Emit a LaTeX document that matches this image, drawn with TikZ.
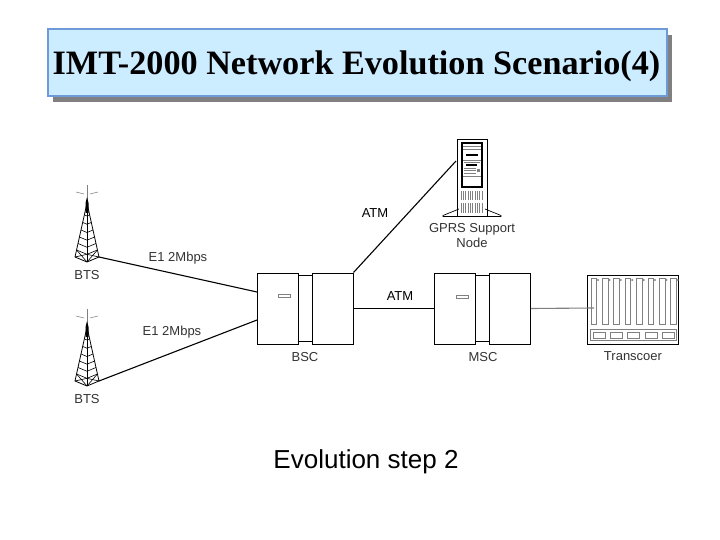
\documentclass[tikz,border=0pt]{standalone}
\usepackage{fontspec}
\setmainfont{Liberation Serif}
\newfontfamily\labelfont{Liberation Sans}
\usetikzlibrary{calc}
\definecolor{titlefill}{RGB}{204,236,255}
\definecolor{titleline}{RGB}{110,155,215}
\definecolor{labelgray}{RGB}{50,50,50}
\tikzset{
  cabinet/.style={draw, line width=1pt, fill=white, minimum width=41pt, minimum height=71pt, inner sep=0pt},
  joiner/.style={draw, line width=1pt, fill=white, minimum width=14pt, minimum height=66pt, inner sep=0pt},
  slot/.style={draw=gray, line width=0.7pt, fill=white, minimum width=12pt, minimum height=3pt, inner sep=0pt},
  tag/.style={font=\labelfont\fontsize{13}{15}\selectfont, text=labelgray, inner sep=0pt, align=center},
  linklabel/.style={font=\labelfont\fontsize{13}{15}\selectfont, text=black, inner sep=0pt},
  link/.style={line width=1.1pt}
}
\begin{document}
\begin{tikzpicture}[x=1pt, y=-1pt]
  \useasboundingbox (0,0) rectangle (720,540);

  % title
  \fill[gray] (53,35) rectangle (672,102);
  \node[draw=titleline, line width=1.6pt, fill=titlefill, minimum width=619pt, minimum height=67pt, inner sep=0pt] (titlebox) at (357.5,62.5) {};
  \node[inner sep=0pt, font=\bfseries\fontsize{34.2}{38}\selectfont] (title) at (356.5,66) {IMT-2000 Network Evolution Scenario(4)};

  % towers
  \foreach \name/\dy in {a/0,b/124} {
    \begin{scope}[yshift=-\dy pt]
      \coordinate (apex\name) at (87,203);
      \coordinate (left\name) at (75,257);
      \coordinate (front\name) at (87,262);
      \coordinate (foot\name) at (99,257);
      \draw[gray, line width=0.5pt] (87,185) -- (87,203);
      \draw[gray, line width=0.6pt] (76,192) -- (84,194) (98,192) -- (90,194);
      \fill (85.5,203) -- (87,197) -- (88.5,203) -- (88.5,213) -- (85.5,213) -- cycle;
      \draw[line width=0.8pt] (apex\name) -- (left\name) -- (front\name) -- (foot\name) -- cycle;
      \draw[line width=0.8pt] (apex\name) -- (front\name);
      \foreach \t in {0.22,0.36,0.5,0.63,0.75,0.87} {
        \draw[line width=0.6pt] ($(apex\name)!\t!(left\name)$) -- ($(apex\name)!\t!(front\name)$) -- ($(apex\name)!\t!(foot\name)$);
      }
      \draw[line width=0.6pt] ($(apex\name)!0.87!(left\name)$) -- (front\name) ($(apex\name)!0.87!(foot\name)$) -- (front\name);
      \draw[line width=0.6pt] ($(apex\name)!0.87!(front\name)$) -- (left\name) ($(apex\name)!0.87!(front\name)$) -- (foot\name);
      \node[tag] (bts\name) at (87,275.5) {BTS};
    \end{scope}
  }

  % BSC
  \node[joiner] (bscmid) at (305,308.5) {};
  \node[cabinet] (bscleft) at (277.5,308.5) {};
  \node[cabinet] (bscright) at (332.5,308.5) {};
  \node[slot] (bscslot) at (284,295.5) {};
  \node[tag] (bsc) at (305,357) {BSC};
  \coordinate (bscin1) at (257,292);
  \coordinate (bscin2) at (257,320);

  % MSC
  \node[joiner] (mscmid) at (482.5,308.5) {};
  \node[cabinet] (mscleft) at (455,308.5) {};
  \node[cabinet] (mscright) at (510,308.5) {};
  \node[slot] (mscslot) at (462.5,296.5) {};
  \node[tag] (msc) at (483,357) {MSC};

  % GPRS node
  \node[draw, line width=0.8pt, minimum width=30pt, minimum height=77pt, inner sep=0pt] (gprs) at (472,177.5) {};
  \coordinate (gprsin) at (456,161);
  \draw[line width=0.7pt] (459,209) -- (443,215.5) -- (443,216.5) -- (501,216.5) -- (501,215.5) -- (485,209);
  \draw[line width=1.2pt] (462,143) rectangle (482,187);
  \draw[gray, line width=0.6pt] (463,146) -- (481,146) (463,149) -- (481,149) (463,160) -- (481,160) (463,176) -- (481,176);
  \draw[line width=1.3pt] (466,155) -- (478,155) (466,165) -- (477,165);
  \draw[gray, line width=0.9pt] (464,162) -- (480,162) (464,168) -- (476,168) (464,170.5) -- (476,170.5) (464,173) -- (476,173);
  \fill[gray] (477,169) rectangle (480,172);
  \foreach \x in {461,463,465,468,470,472,475,477,479,482} {
    \draw[gray, line width=0.6pt] (\x,191) -- (\x,200) (\x,203) -- (\x,213);
  }
  \node[tag] (gprslabel) at (472,235.5) {GPRS Support\\[0.5pt]Node};

  % transcoder
  \node[draw, line width=1pt, minimum width=91pt, minimum height=69pt, inner sep=0pt] (transcoder) at (632.5,309.5) {};
  \coordinate (transcoderin) at (594,308);
  \foreach \x in {0,...,7} {
    \draw[gray, line width=0.8pt] ({591+\x*11.4},278) rectangle ({596.5+\x*11.4},324);
    \draw[gray, line width=0.5pt] ({598+\x*11.4},280) circle (0.8);
  }
  \draw[gray, line width=0.8pt] (590,329) rectangle (676,340);
  \foreach \x in {0,...,4} {
    \draw[gray, line width=0.7pt] ({593+\x*17.3},332) rectangle ({605+\x*17.3},338);
  }
  \node[tag] (transcoderlabel) at (633,356) {Transcoer};

  % links
  \draw[link] (foota) -- (bscin1);
  \draw[link] (footb) -- (bscin2);
  \draw[link] (bscright.north east) -- (gprsin);
  \draw[link] (bscright.east) -- (mscleft.west);
  \draw[gray, line width=1.1pt] (mscright.east) -- (transcoderin);

  \node[tag] (e1a) at (178,258) {E1 2Mbps};
  \node[tag] (e1b) at (172,332) {E1 2Mbps};
  \node[linklabel] (atmgprs) at (375,213) {ATM};
  \node[linklabel] (atmmsc) at (400,296) {ATM};

  % caption
  \node[inner sep=0pt, font=\labelfont\fontsize{26}{30}\selectfont] (caption) at (366,461.5) {Evolution step 2};
\end{tikzpicture}
\end{document}
